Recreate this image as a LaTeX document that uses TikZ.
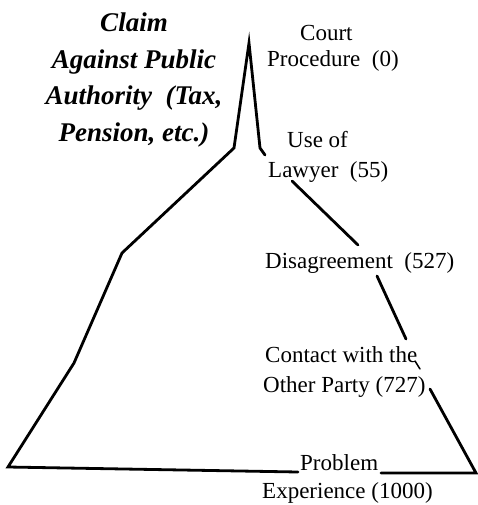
\documentclass[tikz,border=0pt]{standalone}
\usepackage{fontspec}
\setmainfont{Liberation Serif}
\usetikzlibrary{positioning}

\begin{document}
\begin{tikzpicture}[
    x=1pt, y=-1pt,
    pyramid/.style={line width=2.8pt, line join=miter, line cap=round},
    stagetext/.style={font=\fontsize{23}{28}\selectfont, inner sep=0pt, anchor=base west},
    claimtext/.style={font=\fontsize{27}{36.5}\selectfont\bfseries\itshape, align=center, inner sep=0pt}
]
    \useasboundingbox (0,0) rectangle (477,505);

    % outline corners
    \coordinate (apex) at (249,43);
    \coordinate (spikeL) at (234,148);
    \coordinate (shoulderL) at (122,253);
    \coordinate (kneeL) at (74,363);
    \coordinate (footL) at (8,467);
    \coordinate (baseL) at (298,472);
    \coordinate (baseR) at (381,473);
    \coordinate (footR) at (476,473);
    \coordinate (spikeR) at (260,148);
    \coordinate (tickR) at (265,155);
    \coordinate (lawyerR) at (292,181);
    \coordinate (disagreeR) at (358,245);
    \coordinate (contactT) at (377,276);
    \coordinate (contactB) at (406,339);
    \coordinate (partyT) at (415,361);
    \coordinate (partyB) at (420,369);
    \coordinate (lowerR) at (430,389);

    % stage labels
    \node [stagetext] (court) at (300,41) {Court};
    \node [stagetext] (procedure) at (267,67) {Procedure~~(0)};
    \node [stagetext] (useof) at (287,148) {Use of};
    \node [stagetext] (lawyer) at (268,177) {Lawyer~~(55)};
    \node [stagetext] (disagree) at (265,268) {Disagreement~~(527)};
    \node [stagetext] (contact) at (265,362) {Contact with the};
    \node [stagetext] (party) at (263,392) {Other Party (727)};
    \node [stagetext] (problem) at (300,470) {Problem};
    \node [stagetext] (experience) at (262,498) {Experience (1000)};

    \node [claimtext] (claim) at (134,80) {Claim\\Against Public\\Authority~~(Tax,\\Pension, etc.)};

    % pyramid
    \draw [pyramid] (baseL) -- (footL) -- (kneeL) -- (shoulderL) -- (spikeL) -- (apex) -- (spikeR) -- (tickR);
    \draw [pyramid] (lawyerR) -- (disagreeR);
    \draw [pyramid] (contactT) -- (contactB);
    \draw [pyramid, line width=1.5pt] (partyT) -- (partyB);
    \draw [pyramid] (lowerR) -- (footR) -- (baseR);
\end{tikzpicture}
\end{document}
